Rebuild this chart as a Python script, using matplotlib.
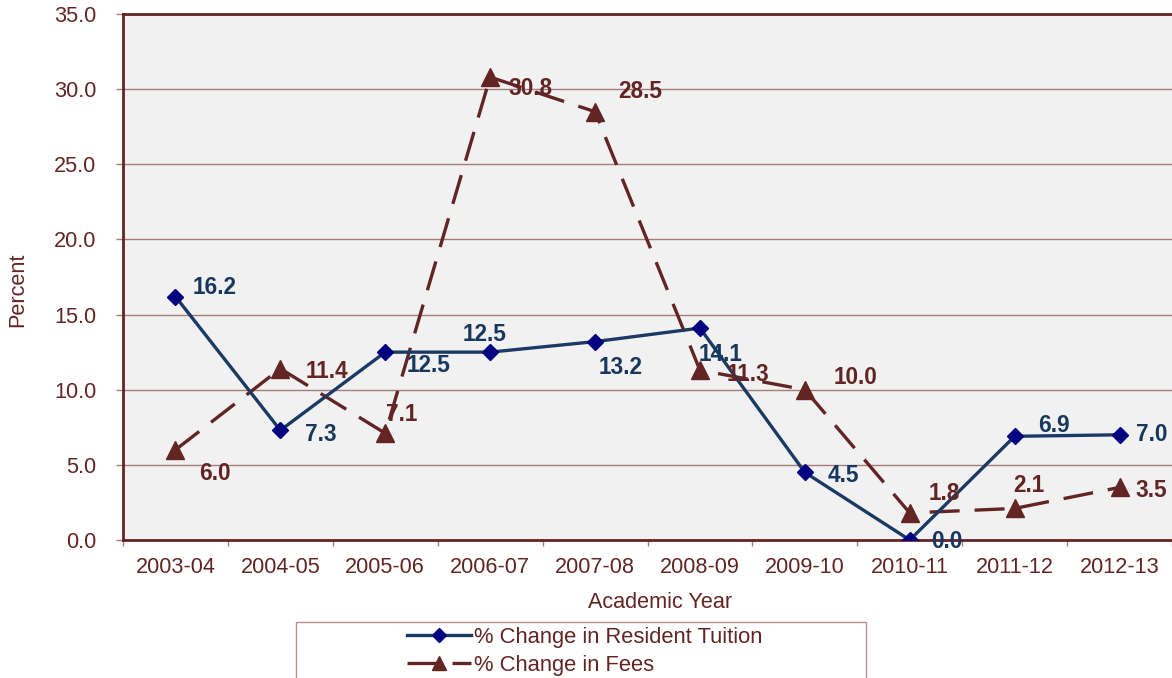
import matplotlib
matplotlib.use("Agg")
import matplotlib.pyplot as plt
from matplotlib.patches import Rectangle

plt.rcParams['font.family'] = ['Liberation Sans', 'DejaVu Sans']

years = ["2003-04", "2004-05", "2005-06", "2006-07", "2007-08",
         "2008-09", "2009-10", "2010-11", "2011-12", "2012-13"]
tuition = [16.2, 7.3, 12.5, 12.5, 13.2, 14.1, 4.5, 0.0, 6.9, 7.0]
fees = [6.0, 11.4, 7.1, 30.8, 28.5, 11.3, 10.0, 1.8, 2.1, 3.5]
yticks = [0, 5, 10, 15, 20, 25, 30, 35]

# label offsets in pixels (dx to text left edge, dy downward in image)
tuition_off = [(17, -11), (25, 2), (21, 11), (-28, -20), (4, 24),
               (-1, 24), (23, 1), (21, 0), (23, -13), (16, -2)]
fees_off = [(24, 22), (25, 1), (1, -21), (18, 9), (23, -22),
            (27, 2), (29, -14), (19, -21), (-1, -25), (16, 1)]

RED = "#632523"
NAVY_LINE = "#1B3A63"
NAVY_MK = "#000080"
NAVY_TXT = "#17375E"
GRID = "#A87C78"

W, H = 1172, 678
fig = plt.figure(figsize=(W / 100, H / 100), dpi=100)
ax = fig.add_axes([123 / W, 1 - 540 / H, (1172 - 123) / W, (540 - 14) / H])
ax.set_facecolor("#F1F1F1")

x = list(range(len(years)))
l1, = ax.plot(x, tuition, color=NAVY_LINE, lw=2.4, marker="D", markersize=8.5,
              markerfacecolor=NAVY_MK, markeredgecolor=NAVY_MK, zorder=4,
              label="% Change in Resident Tuition")
l2, = ax.plot(x, fees, color=RED, lw=2.4, linestyle=(0, (9, 4.5)), marker="^",
              markersize=13, markerfacecolor=RED, markeredgecolor=RED, zorder=3,
              label="% Change in Fees")

for xi, v, (dx, dy) in zip(x, tuition, tuition_off):
    ax.annotate(f"{v:.1f}", (xi, v), xytext=(dx, -dy - 2), textcoords="offset pixels",
                ha="left", va="center", fontsize=16.3, fontweight="bold",
                color=NAVY_TXT, zorder=6)
for xi, v, (dx, dy) in zip(x, fees, fees_off):
    ax.annotate(f"{v:.1f}", (xi, v), xytext=(dx, -dy - 2), textcoords="offset pixels",
                ha="left", va="center", fontsize=16.3, fontweight="bold",
                color=RED, zorder=6)

ax.set_xlim(-0.5, len(years) - 0.5)
ax.set_ylim(0, 35)
ax.set_yticks(yticks)
ax.set_yticklabels([f"{t:.1f}" for t in yticks])
ax.set_xticks(x)
ax.set_xticklabels(years)
ax.set_xticks([i - 0.5 for i in range(len(years) + 1)], minor=True)
ax.tick_params(axis="x", which="major", length=0, pad=12, labelsize=15.6, labelcolor=RED)
ax.tick_params(axis="x", which="minor", length=4, width=1, color=GRID, direction="out")
ax.tick_params(axis="y", length=5, width=1, color=GRID, pad=14, labelsize=15.6, labelcolor=RED)
ax.yaxis.grid(True, color=GRID, lw=1)
ax.set_axisbelow(True)
for s in ["left", "bottom", "top"]:
    ax.spines[s].set_color(RED)
    ax.spines[s].set_linewidth(2)
ax.spines["right"].set_visible(False)

fig.text(660 / W, 1 - 602 / H, "Academic Year", ha="center", va="center",
         fontsize=15.6, color=RED)
fig.text(18 / W, 1 - 290 / H, "Percent", ha="center", va="center",
         rotation=90, fontsize=15.6, color=RED)

fig.patches.append(Rectangle((296 / W, -0.05), 570 / W, 0.05 + (1 - 622 / H),
                             transform=fig.transFigure, facecolor="white",
                             edgecolor="#B89090", lw=1))
fig.legend(handles=[l1, l2], loc="upper left", bbox_to_anchor=(407 / W, 1 - 627 / H),
           frameon=False, fontsize=15.8, handlelength=2.9, handletextpad=0.15,
           labelspacing=0.3, borderpad=0, borderaxespad=0, numpoints=1,
           labelcolor=RED, markerscale=0.8)

fig.savefig("out.png", dpi=100)
